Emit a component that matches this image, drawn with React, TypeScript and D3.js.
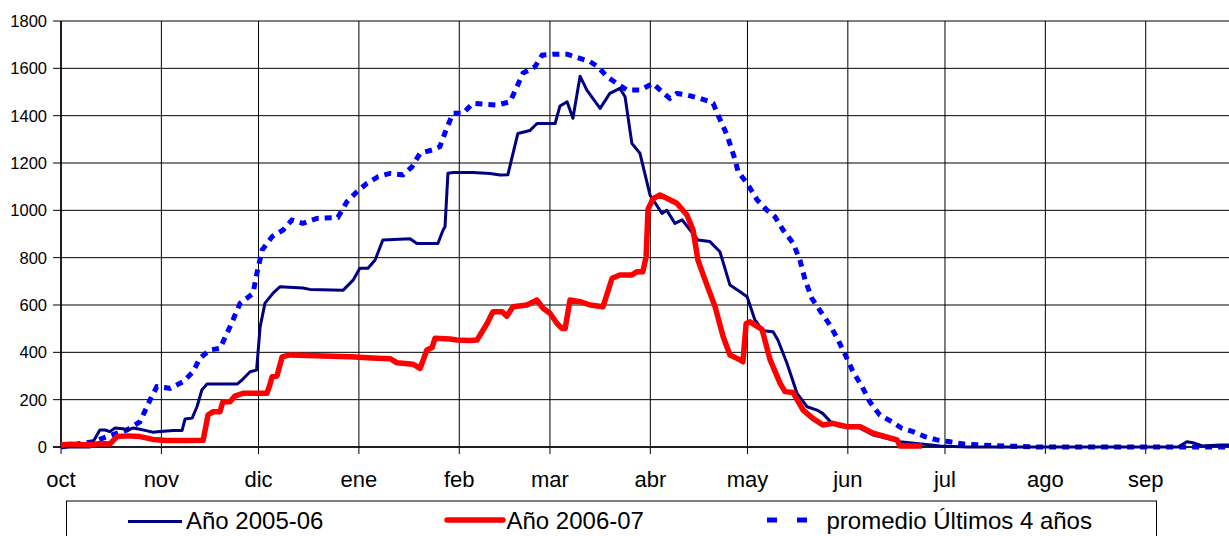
import React from "react";
import * as d3 from "d3";

// days counted from 1 oct, value in the chart's units
const monthDays = [0, 31, 61, 92, 123, 151, 182, 212, 243, 273, 304, 335];
const monthLabels = ["oct", "nov", "dic", "ene", "feb", "mar", "abr", "may", "jun", "jul", "ago", "sep"];
const yTicks = [0, 200, 400, 600, 800, 1000, 1200, 1400, 1600, 1800];

const serie0506: [number, number][] = [
  [0, 0], [9, 0], [12, 72], [13.6, 72], [15.1, 65], [16.7, 80], [19.1, 77], [20.7, 72], [22.2, 80],
  [24.4, 75], [26.6, 68], [28.4, 62], [30.6, 65], [32.7, 68], [34.6, 70], [37.4, 70], [38.3, 118],
  [40.5, 122], [42, 170], [43.5, 241], [45.1, 266], [48.2, 266], [54.4, 266], [55.9, 283], [58.4, 318],
  [60.4, 325], [61.5, 508], [63, 608], [65.5, 650], [67.6, 677], [74.7, 672], [76.9, 666], [87.1, 662],
  [90.2, 705], [92.3, 755], [94.8, 755], [97, 790], [99.4, 875], [107.8, 880], [109.9, 860], [116.4, 860],
  [118, 917], [118.6, 931], [119.5, 1157], [121.1, 1160], [127.2, 1160], [132.5, 1156], [135.6, 1149],
  [138, 1150], [139.6, 1241], [141.1, 1325], [144.8, 1337], [147, 1367], [152.6, 1367], [154.1, 1441],
  [156.3, 1459], [158.1, 1389], [160.3, 1567], [162.4, 1508], [166.5, 1431], [169.5, 1494], [172.6, 1515],
  [174.2, 1480], [176.3, 1283], [178.8, 1241], [181.9, 1065], [185.6, 987], [187.1, 1000], [189.6, 945],
  [191.8, 960], [194.3, 917], [196.7, 875], [200.4, 868], [203.5, 825], [206.6, 684], [209.7, 656],
  [211.9, 635], [214.3, 537], [216.8, 491], [219.9, 487], [221.4, 452], [224.2, 354], [227.3, 227],
  [230.4, 170], [233.5, 156], [235.3, 141], [238.1, 100], [240.6, 86], [244.6, 86], [246.8, 80],
  [250.8, 51], [252.9, 44], [259.1, 22], [271.5, 4], [280, 0], [345, 0], [347.7, 22], [349.6, 18],
  [352.7, 4], [358, 8], [365, 8],
];

const serie0607: [number, number][] = [
  [0, 8], [2.8, 12], [9, 8], [12, 15], [15.1, 13], [17.3, 44], [20.4, 47], [24.4, 44], [28.4, 32],
  [32.7, 27], [38.9, 27], [43.9, 28], [45.4, 135], [46.9, 149], [49.1, 149], [50, 191], [52.2, 191],
  [53.7, 215], [56.2, 227], [63.6, 227], [64.5, 262], [65.2, 297], [66.7, 300], [68.3, 381], [70.7, 389],
  [89.3, 381], [97.6, 375], [101.6, 373], [103.8, 356], [108.7, 350], [110.9, 332], [113, 410],
  [114.6, 420], [115.5, 459], [120.1, 456], [122.3, 452], [126.3, 450], [128.5, 452], [131.6, 522],
  [133.4, 572], [136.2, 572], [137.7, 553], [139.6, 593], [143.9, 600], [147, 621], [148.9, 586],
  [151, 565], [153.2, 522], [154.7, 501], [155.7, 501], [157.2, 621], [160.3, 614], [163.4, 600],
  [167.4, 593], [170.2, 713], [172.6, 727], [176.3, 727], [177.9, 741], [179.7, 741], [180.7, 804],
  [181.3, 1005], [182.8, 1048], [185, 1065], [187.1, 1051], [190.2, 1030], [193.3, 980], [195.2, 917],
  [196.7, 790], [198.9, 706], [202, 593], [204.5, 466], [206.6, 389], [209.7, 368], [210.6, 360],
  [211.6, 522], [212.8, 529], [216.5, 497], [219, 368], [222.1, 269], [223.6, 234], [226.1, 230],
  [229.2, 156], [232.2, 121], [235.3, 93], [238.4, 100], [242.7, 86], [246.8, 86], [250.8, 58],
  [258.2, 30], [259.1, 4], [265.9, 4],
];

const promedio4: [number, number][] = [
  [0, 0], [5.9, 15], [9.9, 22], [14.2, 44], [20.4, 72], [24.4, 107], [27.5, 199], [29.6, 255],
  [33.7, 248], [37.7, 276], [40.8, 318], [42.9, 375], [46, 410], [49.1, 417], [52.2, 508], [55.3, 607],
  [59.3, 649], [60.5, 734], [62.1, 832], [65.2, 889], [68.6, 917], [71.3, 959], [74.7, 945], [79, 966],
  [85.5, 970], [88.3, 1036], [91.4, 1079], [94.5, 1114], [97.9, 1142], [101.6, 1156], [105.6, 1150],
  [108.4, 1184], [110.9, 1241], [114.6, 1255], [117, 1269], [119.2, 1350], [121.1, 1410], [124.2, 1410],
  [127.2, 1452], [134.7, 1445], [138.7, 1459], [140.8, 1522], [142.7, 1580], [146.4, 1607], [148.6, 1656],
  [152, 1660], [156.3, 1660], [160.3, 1642], [163.4, 1628], [165.8, 1607], [168.6, 1565], [171.7, 1536],
  [174.8, 1508], [178.8, 1508], [182.8, 1536], [185.6, 1501], [188, 1473], [190.2, 1494], [193.3, 1487],
  [197.3, 1473], [200.4, 1459], [201.4, 1452], [202.9, 1403], [205.7, 1318], [208.2, 1213], [209.1, 1163],
  [211.9, 1114], [215, 1044], [218, 1001], [220.5, 973], [223, 917], [226.1, 861], [228.2, 790],
  [229.8, 706], [231.9, 628], [235, 565], [237.5, 515], [240, 452], [242.7, 375], [244.6, 318],
  [247.4, 255], [249.8, 191], [252.9, 135], [256.6, 107], [259.7, 79], [263.1, 65], [266.8, 44],
  [270.5, 30], [274.6, 22], [278.6, 13], [284.7, 8], [292.2, 4], [302.3, 0], [365, 0],
];

const W = 1229;
const H = 536;
const font = "'Liberation Sans', Arial, sans-serif";

const App = () => {
  const x = d3.scaleLinear().domain([0, 365]).range([61, 61 + 365 * 3.238]);
  const y = d3.scaleLinear().domain([0, 1800]).range([447, 21]);
  const line = d3
    .line<[number, number]>()
    .x((d) => x(d[0]))
    .y((d) => y(d[1]));

  return (
    <div style={{ position: "absolute", left: 0, top: 0 }}>
      <svg width={W} height={H} style={{ display: "block", background: "#fff" }}>
        {/* grid */}
        {yTicks.map((t) => (
          <g key={"y" + t}>
            <line x1={53} x2={W} y1={y(t)} y2={y(t)} stroke="#000" strokeWidth={1} />
            <text
              x={47}
              y={y(t)}
              dy="0.36em"
              textAnchor="end"
              fontFamily={font}
              fontSize={16.5}
              fill="#000"
            >
              {t}
            </text>
          </g>
        ))}
        {monthDays.map((d, i) => (
          <g key={"m" + d}>
            <line x1={x(d)} x2={x(d)} y1={y(1800)} y2={454} stroke="#000" strokeWidth={1} />
            <text
              x={x(d)}
              y={487}
              textAnchor="middle"
              fontFamily={font}
              fontSize={22}
              fill="#000"
            >
              {monthLabels[i]}
            </text>
          </g>
        ))}
        <line x1={61} x2={61} y1={y(1800)} y2={y(0)} stroke="#000" strokeWidth={1.5} />
        <line x1={53} x2={W} y1={y(0)} y2={y(0)} stroke="#000" strokeWidth={1.5} />

        {/* series */}
        <path
          d={line(promedio4) || ""}
          fill="none"
          stroke="#0000ff"
          strokeWidth={5}
          strokeDasharray="7,6"
        />
        <path
          d={line(serie0506) || ""}
          fill="none"
          stroke="#000080"
          strokeWidth={3}
          strokeLinejoin="round"
        />
        <path
          d={line(serie0607) || ""}
          fill="none"
          stroke="#ff0000"
          strokeWidth={5.5}
          strokeLinejoin="round"
        />

        {/* legend */}
        <rect x={66.5} y={501} width={1090} height={60} fill="#fff" stroke="#000" strokeWidth={1} />
        <line x1={128} x2={182} y1={521.5} y2={521.5} stroke="#000080" strokeWidth={3} />
        <text x={186} y={528.5} fontFamily={font} fontSize={24} fill="#000">
          Año 2005-06
        </text>
        <line x1={447} x2={503} y1={520} y2={520} stroke="#ff0000" strokeWidth={5.5} strokeLinecap="round" />
        <text x={506.5} y={529} fontFamily={font} fontSize={24} fill="#000">
          Año 2006-07
        </text>
        <line x1={767} x2={807} y1={520} y2={520} stroke="#0000ff" strokeWidth={5} strokeDasharray="10,20" />
        <text x={826.5} y={529} fontFamily={font} fontSize={24} fill="#000">
          promedio Últimos 4 años
        </text>
      </svg>
    </div>
  );
};

export default App;
